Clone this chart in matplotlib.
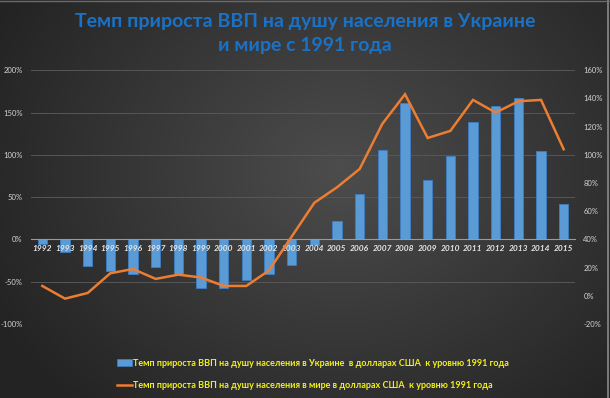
import numpy as np
import matplotlib
matplotlib.use('Agg')
import matplotlib.pyplot as plt
import matplotlib.ticker as mticker
from matplotlib.patches import Patch
from matplotlib.lines import Line2D

# ── Data ─────────────────────────────────────────────────────
years = [str(y) for y in range(1992, 2016)]
ukraine = [-5, -15, -32, -37, -41, -33, -42, -57, -58, -48, -41, -30,
           -7, 22, 54, 106, 161, 70, 99, 139, 158, 167, 105, 42]
world = [7, -2, 2, 16, 19, 12, 15, 13, 7, 7, 18, 42,
         66, 77, 90, 122, 143, 112, 117, 139, 130, 138, 139, 104]

left_ticks = [-100, -50, 0, 50, 100, 150, 200]
right_ticks = [-20, 0, 20, 40, 60, 80, 100, 120, 140, 160]

title = 'Темп прироста ВВП на душу населения в Украине\nи мире с 1991 года'
lbl_ua = 'Темп прироста ВВП на душу населения в Украине  в долларах США  к уровню 1991 года'
lbl_world = 'Темп прироста ВВП на душу населения в мире в долларах США  к уровню 1991 года'

C = {'bar': '#5b9bd5', 'bar_edge': '#3d7fc2', 'line': '#ed7d31',
     'title': '#1a72c8', 'legend': '#f2f21a', 'tick': '#d4d4d4', 'grid': '#575757'}

plt.rcParams['font.family'] = ['Lato', 'DejaVu Sans']

W, H = 610, 398
fig = plt.figure(figsize=(W / 100, H / 100), dpi=100)

# ── background: dark radial gradient ────────────────────────
bg = fig.add_axes([0, 0, 1, 1], zorder=-10)
yy, xx = np.mgrid[0:H, 0:W]
r = np.sqrt(((xx - 340) / 360.0) ** 2 + ((yy - 170) / 300.0) ** 2)
shade = np.clip(0.30 - 0.15 * r, 0.14, 0.30)
bg.imshow(np.dstack([shade, shade, shade]), aspect='auto', extent=[0, 1, 0, 1])
bg.set_xlim(0, 1); bg.set_ylim(0, 1); bg.axis('off')
bg.plot([0.997, 0.997], [0, 1], color='#8a8a8a', lw=1.2)
bg.plot([0, 1], [0.998, 0.998], color='#6a6a6a', lw=1.0)

# ── main axes ───────────────────────────────────────────────
ax = fig.add_axes([31 / W, (H - 324) / H, (575 - 31) / W, (324 - 70.3) / H])
ax.patch.set_alpha(0)
x = np.arange(len(years))
ax.bar(x, ukraine, width=0.42, color=C['bar'], edgecolor=C['bar_edge'], lw=0.6, zorder=2)
ax.set_ylim(-100, 200)
ax.set_xlim(-0.5, len(years) - 0.5)
ax.set_yticks(left_ticks)
ax.yaxis.set_major_formatter(mticker.FuncFormatter(lambda v, _: f'{v:.0f}%'))
ax.grid(axis='y', color=C['grid'], lw=0.7)
ax.yaxis.set_zorder(0.5)   # grid under the bars
ax.xaxis.set_zorder(5)     # year labels over the bars
for s in ['top', 'right', 'left']:
    ax.spines[s].set_visible(False)
ax.spines['bottom'].set_position(('data', 0))
ax.spines['bottom'].set_color('#9a9a9a')
ax.spines['bottom'].set_linewidth(0.8)
ax.spines['bottom'].set_zorder(4)
ax.set_xticks(x)
ax.set_xticklabels(years, fontsize=6, fontstyle='italic', fontweight='bold', color='#e6e6e6')
ax.tick_params(axis='x', length=0, pad=4)
ax.tick_params(axis='y', length=0, labelsize=5.5, labelcolor=C['tick'], pad=6)

ax2 = ax.twinx()
ax2.plot(x, world, color=C['line'], lw=1.8, zorder=5, solid_joinstyle='miter')
ax2.set_ylim(-20, 160)
ax2.set_yticks(right_ticks)
ax2.yaxis.set_major_formatter(mticker.FuncFormatter(lambda v, _: f'{v:.0f}%'))
for s in ax2.spines.values():
    s.set_visible(False)
ax2.tick_params(axis='y', length=0, labelsize=5.5, labelcolor=C['tick'], pad=6)

# ── title & legend ──────────────────────────────────────────
fig.text(0.5, (H - 34) / H, title, ha='center', va='center', fontsize=14,
         fontweight='bold', color=C['title'], linespacing=1.5)

handles = [Patch(facecolor=C['bar'], edgecolor=C['bar_edge'], lw=0.5),
           Line2D([], [], color=C['line'], lw=1.8)]
leg = fig.legend(handles, [lbl_ua, lbl_world], loc='upper left',
                 bbox_to_anchor=(113 / W, (H - 355) / H), frameon=False,
                 fontsize=6.45, handlelength=1.75, handletextpad=0.1,
                 labelspacing=1.55, borderaxespad=0)
for t in leg.get_texts():
    t.set_color(C['legend'])
    t.set_fontweight('bold')

fig.savefig('out.png', dpi=100)
